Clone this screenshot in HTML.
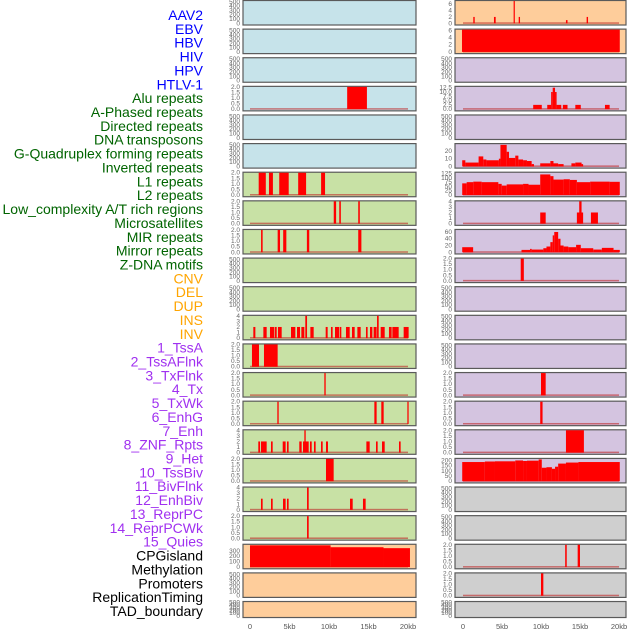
<!DOCTYPE html>
<html><head><meta charset="utf-8"><style>
html,body{margin:0;padding:0;background:#fff;width:630px;height:630px;overflow:hidden}
svg{display:block}
</style></head><body>
<svg id="chart" width="630" height="630" xmlns="http://www.w3.org/2000/svg"></svg>
<script>
const labels=["AAV2","EBV","HBV","HIV","HPV","HTLV-1","Alu repeats","A-Phased repeats","Directed repeats","DNA transposons","G-Quadruplex forming repeats","Inverted repeats","L1 repeats","L2 repeats","Low_complexity A/T rich regions","Microsatellites","MIR repeats","Mirror repeats","Z-DNA motifs","CNV","DEL","DUP","INS","INV","1_TssA","2_TssAFlnk","3_TxFlnk","4_Tx","5_TxWk","6_EnhG","7_Enh","8_ZNF_Rpts","9_Het","10_TssBiv","11_BivFlnk","12_EnhBiv","13_ReprPC","14_ReprPCWk","15_Quies","CPGisland","Methylation","Promoters","ReplicationTiming","TAD_boundary"];
const labelColors=["#0000ff","#006400","#ffa500","#a030f0","#000000"];
const labelGroups=[6,13,5,15,5];
const xTicks=[0,5,10,15,20];
const xTickLabels=["0","5kb","10kb","15kb","20kb"];
const leftBg=["b","b","b","b","b","b","g","g","g","g","g","g","g","g","g","g","g","g","g","o","o","o"];
const rightBg=["o","o","p","p","p","p","p","p","p","p","p","p","p","p","p","p","p","y","y","y","y","y"];
const leftYmax=[520,520,520,2,520,520,2,2,2,520,520,4,2,2,2,4,2,4,2,410,520,520];
const rightYmax=[7,6.2,520,13,520,29,130,4,66,2,520,520,520,2,2,2,215,520,520,2,2,520];
const leftSegs=[[],[],[],[[12.3,14.8,2]],[],[],
[[1.1,2.0,2],[2.4,2.9,2],[3.7,4.9,2],[6.1,7.1,2],[9.0,9.5,2]],
[[10.6,10.9,2],[11.3,11.5,2],[13.7,13.9,2]],
[[1.4,1.6,2],[3.5,3.8,2],[4.2,4.6,2],[7.2,7.5,2],[13.7,14.1,2]],
[],[],
[[0.42,0.68,2],[1.69,2.11,2],[2.53,3.04,2],[3.12,3.38,2],[3.54,4.01,2],[5.19,5.74,2],[5.95,6.33,2],[6.5,6.88,2],[7.0,7.22,4],[7.64,8.06,2],[9.58,9.83,2],[10.25,10.46,2],[10.76,11.27,2],[11.35,11.56,2],[12.15,12.62,2],[12.91,13.25,2],[13.59,14.01,2],[14.68,14.89,2],[15.19,15.49,2],[15.65,16.03,2],[16.08,16.29,4],[16.54,17.05,2],[17.59,17.93,2],[18.02,18.82,2],[19.45,20.08,2]],
[[0.25,1.14,2],[1.77,3.5,2]],
[[9.41,9.58,2]],
[[3.46,3.63,2],[15.74,16.03,2],[16.62,16.92,2],[19.92,20.08,2]],
[[1.05,1.27,2],[1.39,2.11,2],[2.66,2.87,2],[4.14,4.51,2],[4.68,4.89,2],[6.24,6.54,2],[6.71,7.43,2],[6.88,7.05,4],[7.59,7.81,2],[8.1,8.31,2],[8.99,9.2,2],[9.62,9.87,2],[14.73,15.15,2],[15.95,16.16,2],[16.71,17.05,2],[18.86,19.07,2]],
[[9.62,10.59,2]],
[[1.39,1.6,2],[2.66,2.87,2],[4.18,4.51,2],[4.68,4.89,2],[7.22,7.43,4],[12.66,13.0,2],[14.3,14.64,2]],
[[7.22,7.43,2]],
[[0,10.2,400],[10.2,16.9,365],[16.9,20.25,348]],
[],[]];
const rightSegs=[
[[1.32,1.5,2],[3.97,4.19,2],[6.49,6.62,7],[7.14,7.31,2],[13.2,13.4,1],[15.85,16.03,2]],
[[-0.13,20.1,6.2]],
[],
[[9.0,10.1,2.5],[10.8,11.3,2.5],[11.3,11.5,10],[11.5,11.8,12.5],[11.8,12.0,10],[12.0,12.6,2.5],[12.8,13.4,2.5],[14.4,15.1,2.5],[18.2,18.8,2.5]],
[],
[[-0.1,0.3,8],[0.3,2.0,5],[2.0,2.6,13],[2.6,3.0,9],[3.0,4.6,8],[4.6,4.8,10],[4.8,5.6,28],[5.6,5.9,19],[5.9,6.7,11],[6.7,7.1,14],[7.1,7.7,9],[7.7,8.2,8],[8.2,8.8,7],[8.8,9.1,3],[9.9,11.2,4],[11.2,11.6,7],[11.6,12.2,4],[12.2,12.9,3],[13.9,14.4,4],[14.4,15.2,5],[15.2,15.4,3]],
[[-0.1,0.47,68],[0.47,1.32,75],[1.32,2.39,78],[2.39,4.53,75],[4.53,4.96,65],[4.96,5.6,55],[5.6,7.7,62],[7.7,8.4,65],[8.4,9.9,60],[9.9,11.2,120],[11.2,11.6,110],[11.6,12.9,90],[12.9,13.7,92],[13.7,14.6,88],[14.6,16.3,75],[16.3,18.8,78],[18.8,20.1,77]],
[[9.9,10.6,2],[14.6,15.4,2],[14.9,15.2,4],[16.4,17.3,2]],
[[-0.1,1.3,15],[7.5,8.6,7],[8.6,8.8,10],[8.8,10.3,8],[10.3,10.7,12],[10.7,11.2,17],[11.2,11.5,30],[11.5,11.7,50],[11.7,12.2,60],[12.2,12.5,40],[12.5,12.9,20],[12.9,13.5,17],[13.5,14.5,15],[14.5,15.1,22],[15.1,16.7,12],[16.7,17.8,8],[17.8,19.3,13],[19.3,20.1,7]],
[[7.4,7.8,2]],
[],[],[],
[[10.0,10.6,2]],
[[9.9,10.2,2]],
[[13.2,15.5,2]],
[[-0.1,2.8,185],[2.8,4.1,190],[4.1,6.7,192],[6.7,7.7,200],[7.7,8.2,195],[8.2,9.7,198],[9.7,10.1,210],[10.1,10.7,130],[10.7,11.4,135],[11.4,11.8,120],[11.8,12.2,140],[12.2,13.2,170],[13.2,14.8,180],[14.8,20.1,185]],
[],[],
[[13.1,13.3,2],[14.7,15.0,2]],
[[10.0,10.3,2]],
[]];
const bgColors={b:"#c6e3ea",g:"#c8e1a5",o:"#fecd9b",p:"#d4c4e0",y:"#cfcfcf"};
const NS="http://www.w3.org/2000/svg";
const svg=document.getElementById("chart");
function mk(tag,attrs,parent){const e=document.createElementNS(NS,tag);for(const k in attrs)e.setAttribute(k,attrs[k]);(parent||svg).appendChild(e);return e;}
let li=0;
labelGroups.forEach((n,g)=>{for(let k=0;k<n;k++,li++){
 const t=mk("text",{x:203,y:15+li*13.86+5,"text-anchor":"end","font-family":"Liberation Sans, sans-serif","font-size":"14",fill:labelColors[g]});
 t.textContent=labels[li];
 
 
}});
function ticksFor(ymax){
 if(ymax>=500) return [0,100,200,300,400,500];
 if(ymax>=300) return [0,100,200,300];
 if(ymax>=200) return [0,50,100,150,200];
 if(ymax>=120) return [0,25,50,75,100,125];
 if(ymax>=60) return [0,20,40,60];
 if(ymax>=25) return [0,10,20];
 if(ymax>=12) return [0,2.5,5,7.5,10,12.5];
 if(ymax>=6) return [0,2,4,6];
 if(ymax>=4) return [0,1,2,3,4];
 return [0,0.5,1,1.5,2];
}
function fmt(v,ymax){ if(ymax<=2||ymax===13) return v.toFixed(1); return String(v);}
function panel(col,r,bgKey,ymax,segs){
 const px=col===0?243:455, pw=col===0?173:171;
 const x0=col===0?250:463, kbw=col===0?7.9:7.8;
 const xs=kb=>x0+kb*kbw;
 const top=r*28.62, h=(r===21?16:24.5), bot=top+h-1.2, ph=h-2.2;
 const ys=v=>bot-v/ymax*ph;
 const g=mk("g",{});
 
 
 mk("rect",{x:px,y:top+0.5,width:pw,height:h,fill:bgColors[bgKey],stroke:"#5a5a5a","stroke-width":1.2},g);
 ticksFor(ymax).forEach(v=>{
  const t=mk("text",{x:px-3,y:ys(v)+2,"text-anchor":"end","font-family":"Liberation Sans, sans-serif","font-size":"6.5",fill:"#666"},g);
  t.textContent=fmt(v,ymax);
 });
 if(segs.length){
  mk("rect",{x:xs(0),y:bot-1,width:xs(20)-xs(0),height:1.5,fill:"rgba(190,40,40,0.6)"},g);
  segs.forEach(s=>{
   const b=mk("rect",{x:xs(s[0]),y:ys(s[2]),width:Math.max(1.2,xs(s[1])-xs(s[0])),height:bot-ys(s[2]),fill:"#ff0000"},g);
   
   
  });
 }
}
for(let r=0;r<22;r++){
 panel(0,r,leftBg[r],leftYmax[r],leftSegs[r]);
 panel(1,r,rightBg[r],rightYmax[r],rightSegs[r]);
}
[0,1].forEach(col=>{
 const x0=col===0?250:463, kbw=col===0?7.9:7.8;
 xTicks.forEach((v,i)=>{
  const t=mk("text",{x:x0+v*kbw,y:629,"text-anchor":"middle","font-family":"Liberation Sans, sans-serif","font-size":"7.5",fill:"#555"});
  t.textContent=xTickLabels[i];
  
  
 });
});
</script>
</body></html>
